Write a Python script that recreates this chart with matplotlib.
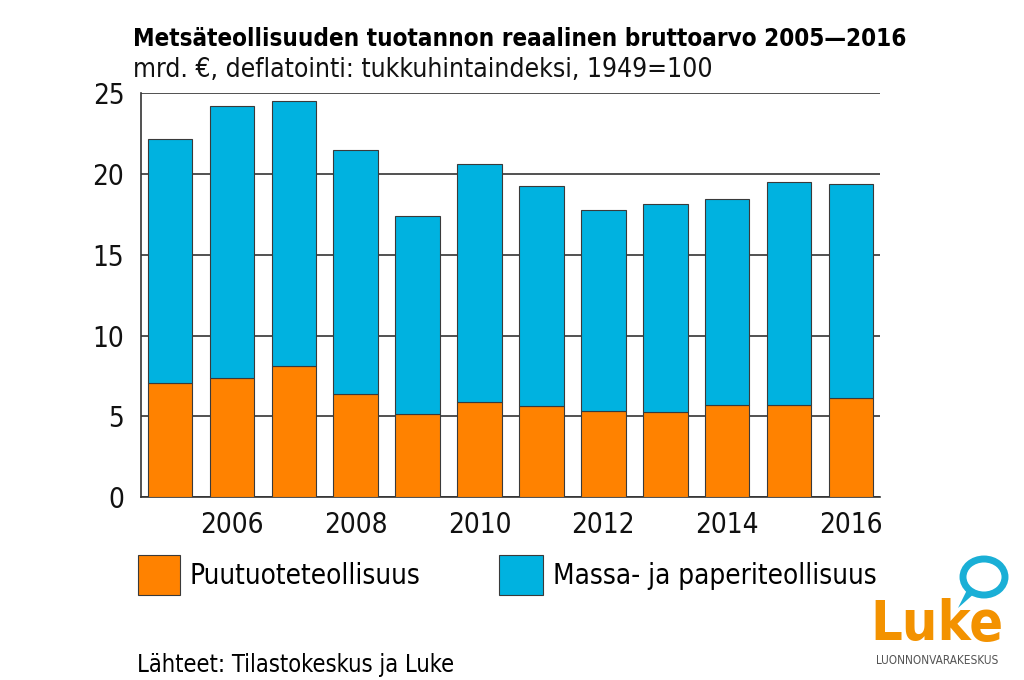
import matplotlib.pyplot as plt
import matplotlib.patches as mpatches
import numpy as np

# data (mrd. €)
vuodet = [2005, 2006, 2007, 2008, 2009, 2010, 2011, 2012, 2013, 2014, 2015, 2016]
yhteensa = [22.15, 24.22, 24.5, 21.48, 17.4, 20.6, 19.27, 17.77, 18.15, 18.45, 19.52, 19.4]
puutuote = [7.03, 7.38, 8.1, 6.37, 5.14, 5.9, 5.61, 5.32, 5.24, 5.71, 5.69, 6.15]
massa = [t - p for t, p in zip(yhteensa, puutuote)]
xtikit = [2006, 2008, 2010, 2012, 2014, 2016]

oranssi = '#FF8200'
sininen = '#00B2E0'
reuna = '#3a3a3a'

plt.rcParams['font.family'] = ['DejaVu Sans']
plt.rcParams['font.stretch'] = 'condensed'

fig = plt.figure(figsize=(10.24, 6.8), dpi=100)
ax = fig.add_axes([0.1377, 0.269, 0.7217, 0.594])

x = np.arange(len(vuodet))
ax.bar(x, puutuote, width=0.72, color=oranssi, edgecolor=reuna, linewidth=0.8, zorder=3)
ax.bar(x, massa, width=0.72, bottom=puutuote, color=sininen, edgecolor=reuna, linewidth=0.8, zorder=3)

ax.set_xlim(-0.47, 11.47)
ax.set_ylim(0, 25)
ax.set_yticks([0, 5, 10, 15, 20, 25])
ax.set_xticks([vuodet.index(v) for v in xtikit])
ax.set_xticklabels([str(v) for v in xtikit])
ax.tick_params(length=0, labelsize=20, colors='#111111')
ax.tick_params(axis='y', pad=12)
ax.tick_params(axis='x', pad=10)
ax.yaxis.grid(True, color='#333333', linewidth=1.2, zorder=0)
ax.set_axisbelow(True)
for s in ['top', 'right']:
    ax.spines[s].set_visible(False)
for s in ['left', 'bottom']:
    ax.spines[s].set_color('#333333')
    ax.spines[s].set_linewidth(1.2)

fig.text(0.13, 0.943, 'Metsäteollisuuden tuotannon reaalinen bruttoarvo 2005\u20142016',
         fontsize=17.4, fontweight='bold', va='center', ha='left')
fig.text(0.13, 0.897, 'mrd. €, deflatointi: tukkuhintaindeksi, 1949=100',
         fontsize=19, va='center', ha='left', color='#111111')

# legend
fig.patches.append(mpatches.Rectangle((138 / 1024, 1 - 595 / 680), 42 / 1024, 40 / 680,
                                      transform=fig.transFigure, facecolor=oranssi,
                                      edgecolor=reuna, linewidth=0.8))
fig.text(190 / 1024, 1 - 576 / 680, 'Puutuoteteollisuus', fontsize=20, va='center')
fig.patches.append(mpatches.Rectangle((499 / 1024, 1 - 595 / 680), 44 / 1024, 40 / 680,
                                      transform=fig.transFigure, facecolor=sininen,
                                      edgecolor=reuna, linewidth=0.8))
fig.text(553 / 1024, 1 - 576 / 680, 'Massa- ja paperiteollisuus', fontsize=20, va='center')

fig.text(137 / 1024, 1 - 665 / 680, 'Lähteet: Tilastokeskus ja Luke', fontsize=17, va='center')

# logo
fig.text(937 / 1024, 1 - 625 / 680, 'Luke', fontsize=40, color='#F39200', fontweight='bold',
         ha='center', va='center')
fig.text(937 / 1024, 1 - 661 / 680, 'LUONNONVARAKESKUS', fontsize=8.5, color='#555555',
         ha='center', va='center')
fig.patches.append(mpatches.Ellipse((984 / 1024, 1 - 577 / 680), 42 / 1024, 36 / 680,
                                    transform=fig.transFigure, facecolor='none',
                                    edgecolor='#1AAFD6', linewidth=5))
fig.patches.append(mpatches.Polygon([(968 / 1024, 1 - 588 / 680), (958 / 1024, 1 - 608 / 680),
                                     (976 / 1024, 1 - 592 / 680)],
                                    transform=fig.transFigure, facecolor='#1AAFD6', edgecolor='none'))

fig.savefig('out.png', dpi=100)
